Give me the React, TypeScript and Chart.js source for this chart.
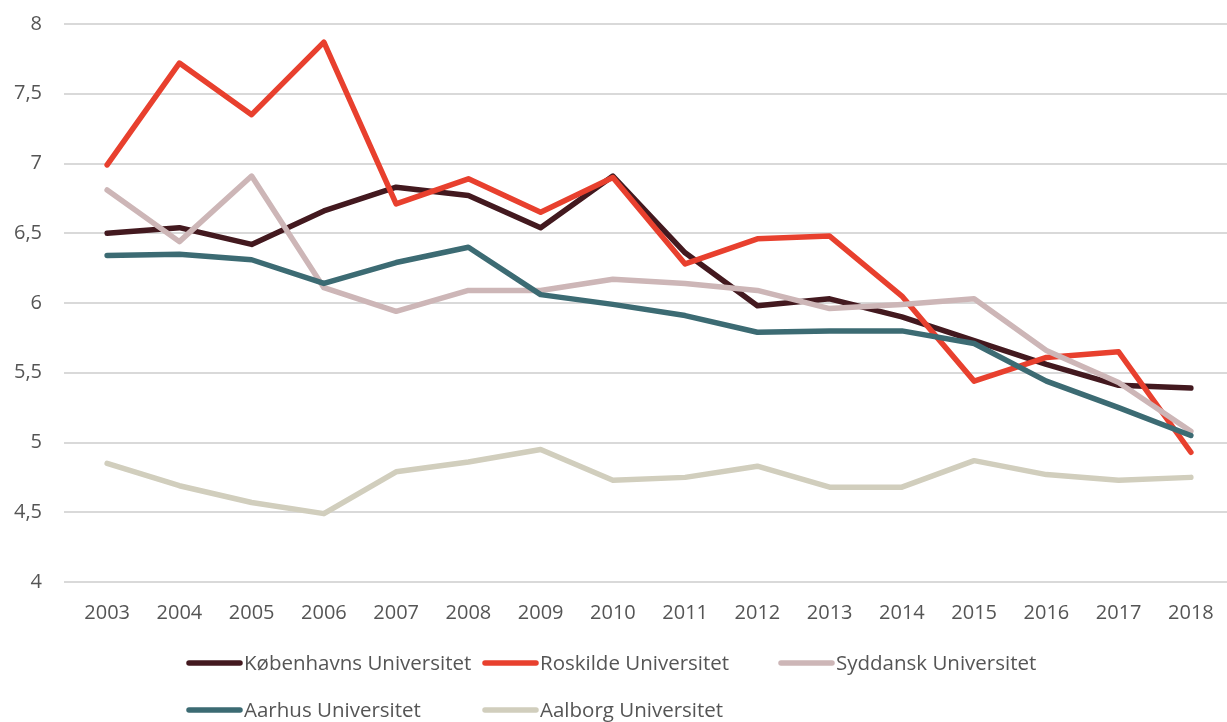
import React, { useEffect, useRef } from "react";
import { Chart, registerables } from "chart.js";

Chart.register(...registerables);

const years = ["2003","2004","2005","2006","2007","2008","2009","2010","2011","2012","2013","2014","2015","2016","2017","2018"];
const koebenhavn = [6.5, 6.54, 6.42, 6.66, 6.83, 6.77, 6.54, 6.91, 6.36, 5.98, 6.03, 5.9, 5.73, 5.56, 5.41, 5.39];
const roskilde = [6.99, 7.72, 7.35, 7.87, 6.71, 6.89, 6.65, 6.9, 6.28, 6.46, 6.48, 6.05, 5.44, 5.61, 5.65, 4.93];
const syddansk = [6.81, 6.44, 6.91, 6.11, 5.94, 6.09, 6.09, 6.17, 6.14, 6.09, 5.96, 5.99, 6.03, 5.66, 5.43, 5.08];
const aarhus = [6.34, 6.35, 6.31, 6.14, 6.29, 6.4, 6.06, 5.99, 5.91, 5.79, 5.8, 5.8, 5.71, 5.44, 5.25, 5.05];
const aalborg = [4.85, 4.69, 4.57, 4.49, 4.79, 4.86, 4.95, 4.73, 4.75, 4.83, 4.68, 4.68, 4.87, 4.77, 4.73, 4.75];

const seriesNames = ["Københavns Universitet", "Roskilde Universitet", "Syddansk Universitet", "Aarhus Universitet", "Aalborg Universitet"];
const seriesColors = ["#43191F", "#E8402E", "#CDB6B7", "#3C6B73", "#D1CEBD"];
const yMin = 4;
const yMax = 8;
const yStep = 0.5;

const FONT = "'Open Sans', 'DejaVu Sans', sans-serif";
const TEXT = "#555555";

const legendPlugin = {
  id: "gridLegend",
  afterDraw(chart: any) {
    const ctx = chart.ctx;
    const cols = [187, 483, 779];
    const rows = [663, 710];
    ctx.save();
    ctx.font = `20.5px ${FONT}`;
    ctx.fillStyle = TEXT;
    ctx.textBaseline = "middle";
    ctx.textAlign = "left";
    chart.data.datasets.forEach((ds: any, i: number) => {
      const x = cols[i % 3];
      const y = rows[Math.floor(i / 3)];
      ctx.strokeStyle = ds.borderColor;
      ctx.lineWidth = 5.5;
      ctx.lineCap = "round";
      ctx.beginPath();
      ctx.moveTo(x + 2, y);
      ctx.lineTo(x + 53, y);
      ctx.stroke();
      ctx.fillText(ds.label, x + 57, y + 1);
    });
    ctx.restore();
  },
};

export default function App() {
  const ref = useRef<HTMLCanvasElement | null>(null);
  useEffect(() => {
    document.body.style.margin = "0";
    const allSeries = [koebenhavn, roskilde, syddansk, aarhus, aalborg];
    const chart = new Chart(ref.current as HTMLCanvasElement, {
      type: "line",
      data: {
        labels: years,
        datasets: allSeries.map((d, i) => ({
          label: seriesNames[i],
          data: d,
          order: allSeries.length - i,
          borderColor: seriesColors[i],
          backgroundColor: seriesColors[i],
          borderWidth: 5.5,
          pointRadius: 0,
          borderCapStyle: "round",
          borderJoinStyle: "round",
          tension: 0,
          fill: false,
        })),
      },
      options: {
        animation: false,
        responsive: false,
        maintainAspectRatio: false,
        layout: { padding: { top: 24, right: 0, bottom: 100, left: 0 } },
        plugins: {
          legend: { display: false },
          tooltip: { enabled: false },
        },
        scales: {
          x: {
            offset: true,
            afterFit(scale: any) { scale.height = 40; },
            grid: { display: false },
            border: { display: false },
            ticks: { color: TEXT, font: { family: FONT, size: 20 }, padding: 11, maxRotation: 0 },
          },
          y: {
            min: yMin,
            max: yMax,
            afterFit(scale: any) {
              scale.width = 71;
              scale.paddingTop = 0;
              scale.paddingBottom = 0;
            },
            grid: { color: "#D9D9D9", lineWidth: 2, drawTicks: true, tickLength: 7, tickColor: "#D9D9D9" },
            border: { display: false },
            ticks: {
              stepSize: yStep,
              color: TEXT,
              font: { family: FONT, size: 20 },
              padding: 22,
              callback: (v: any) => String(v).replace(".", ","),
            },
          },
        },
      },
      plugins: [legendPlugin],
    } as any);
    return () => chart.destroy();
  }, []);
  return (
    <div style={{ width: 1227, height: 722 }}>
      <canvas ref={ref} width={1227} height={722} style={{ width: 1227, height: 722 }} />
    </div>
  );
}
